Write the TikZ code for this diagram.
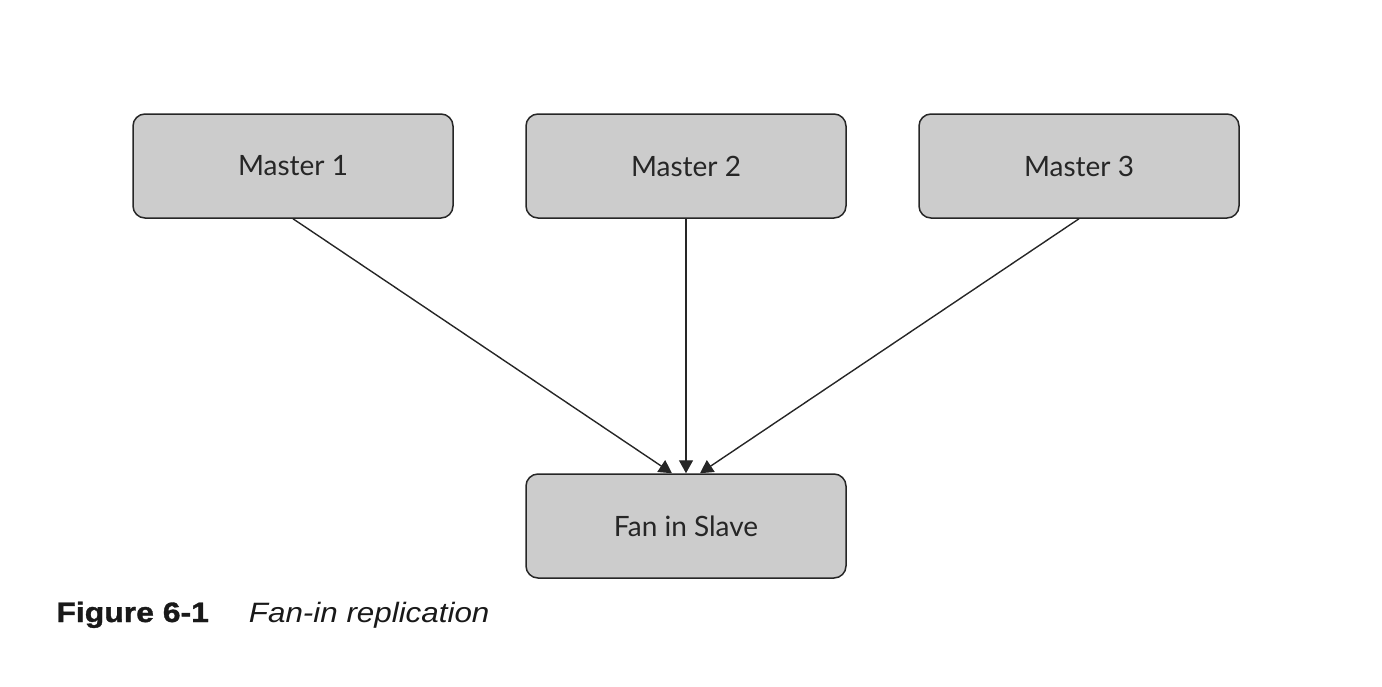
\documentclass[tikz,border=0pt]{standalone}
\usepackage{fontspec}
\setmainfont{Lato}
\newfontfamily\capfont[FakeStretch=1.12]{Liberation Sans}
\newfontfamily\capboldfont[FakeStretch=1.14,FakeBold=1.2]{Liberation Sans Bold}
\usetikzlibrary{arrows.meta}
\begin{document}
\begin{tikzpicture}[x=0.5pt,y=-0.5pt,
  box/.style={draw=black!85, line width=0.75pt, fill=black!20, rounded corners=6pt,
    minimum width=160pt, minimum height=52pt, inner sep=0pt, font=\fontsize{14}{16}\selectfont, text=black!85},
  conn/.style={draw=black!85, line width=0.7pt, -{Triangle[length=6.5pt,width=7pt]}}]
\useasboundingbox (0,0) rectangle (1382,686);
\node[box] (m1) at (293,166) {Master 1};
\node[box] (m2) at (686,166) {Master 2};
\node[box] (m3) at (1079,166) {Master 3};
\node[box] (s) at (686,526) {Fan in Slave};
\coordinate (t1) at ([xshift=-7pt]s.north);
\coordinate (t3) at ([xshift=7pt]s.north);
\draw[conn] (m1.south) -- (t1);
\draw[conn] (m2.south) -- (s.north);
\draw[conn] (m3.south) -- (t3);
\node[anchor=base west, inner sep=0pt, font=\fontsize{14}{16}\selectfont, text=black!90] (cap) at (56,622)
  {{\capboldfont Figure 6-1}\hspace{20pt}{\capfont\itshape Fan-in replication}};
\end{tikzpicture}
\end{document}
